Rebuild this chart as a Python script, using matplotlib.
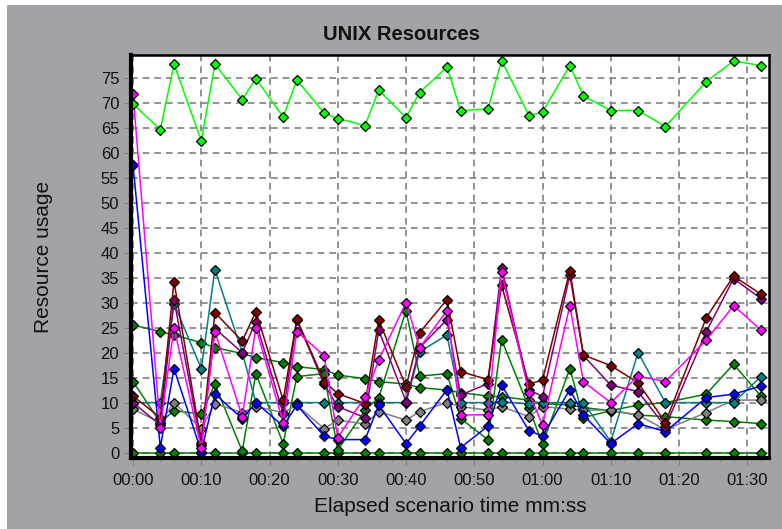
"""
    UNIX Resources chart (LoadRunner style)
"""

import numpy as np
import matplotlib
matplotlib.use("Agg")
import matplotlib.pyplot as plt
from matplotlib.patches import Rectangle
from matplotlib.ticker import MultipleLocator, FuncFormatter

# elapsed time in seconds
t = [0, 4, 6, 10, 12, 16, 18, 22, 24, 28, 30, 34, 36, 40, 42, 46, 48, 52, 54, 58,
     60, 64, 66, 70, 74, 78, 84, 88, 92]

lime = [69.7, 64.6, 77.7, 62.3, 77.7, 70.6, 74.8, 67.1, 74.5, 67.9, 66.8, 65.4, 72.5, 67.0, 72.0,
        77.1, 68.4, 68.7, 78.4, 67.4, 68.1, 77.4, 71.3, 68.4, 68.4, 65.2, 74.2, 78.3, 77.4]
green_b = [25.5, 24.2, 23.5, 22.0, 21.0, 19.8, 19.0, 18.0, 17.2, 16.6, 15.5, 14.8, 14.2, 13.7, 13.0,
           12.5, 12.0, 11.3, 11.2, 10.5, 9.8, 9.5, 9.0, 8.4, 7.5, 7.2, 6.5, 6.2, 5.8]
green_c = [14.2, 6.0, 8.4, 7.7, 13.7, 0.3, 15.8, 1.8, 15.2, 15.8, 0.5, 8.5, 11.0, 28.4, 15.3,
           15.8, 6.8, 2.6, 22.6, 9.0, 1.7, 16.8, 7.0, 8.4, 9.5, 10.0, 11.7, 17.7, 11.3]
green_zero = [0.0] * 29
gray = [8.7, 6.0, 10.0, 4.8, 9.8, 8.0, 9.2, 8.0, 9.5, 4.8, 6.5, 5.7, 8.2, 6.5, 8.2,
        10.0, 9.2, 8.5, 9.2, 7.2, 9.2, 8.7, 8.5, 8.5, 7.5, 4.6, 8.0, 10.5, 10.5]
teal = [10.0, 10.0, 29.8, 16.8, 36.6, 20.0, 10.0, 10.0, 10.0, 10.0, 10.0, 10.0, 10.0, 10.0, 20.2,
        23.5, 10.0, 10.0, 10.2, 9.7, 10.0, 10.0, 10.0, 2.2, 20.0, 10.0, 10.0, 10.0, 15.2]
blue = [57.5, 1.0, 16.8, 0.2, 11.7, 6.8, 10.0, 5.3, 9.5, 3.3, 2.6, 2.6, 9.5, 1.8, 5.3,
        12.6, 1.0, 5.3, 13.5, 4.4, 3.3, 12.6, 7.5, 1.8, 5.8, 4.2, 11.0, 11.7, 13.3]
purple = [10.0, 5.5, 30.6, 1.5, 24.8, 20.0, 26.2, 7.8, 26.5, 13.7, 9.2, 7.0, 24.5, 10.2, 21.0,
          26.6, 11.5, 13.8, 37.0, 12.6, 11.2, 35.5, 19.4, 13.5, 12.2, 5.2, 24.2, 34.8, 30.8]
darkred = [11.3, 7.0, 34.2, 2.0, 28.0, 22.3, 28.2, 10.5, 26.7, 14.2, 11.8, 9.8, 26.5, 13.2, 24.0,
           30.6, 16.2, 14.6, 33.5, 13.7, 14.5, 36.4, 19.5, 17.4, 14.0, 6.0, 27.0, 35.3, 31.7]
magenta = [71.7, 5.0, 25.0, 1.0, 24.2, 7.2, 25.0, 6.0, 24.2, 19.4, 3.0, 11.2, 18.5, 30.0, 21.0,
           28.4, 7.5, 7.6, 36.2, 12.0, 5.5, 29.4, 14.2, 10.0, 15.3, 14.2, 22.5, 29.4, 24.5]

series = [
    (green_zero, "#008000"),
    (green_b, "#008000"),
    (green_c, "#008000"),
    (gray, "#808080"),
    (teal, "#008080"),
    (blue, "#0000ff"),
    (purple, "#800080"),
    (darkred, "#800000"),
    (magenta, "#ff00ff"),
    (lime, "#00ff00"),
]

plt.rcParams['font.family'] = ['Liberation Sans', 'DejaVu Sans']

fig = plt.figure(figsize=(7.82, 5.29), dpi=100, facecolor="white")
# gray panel, leaving a thin white strip on the left and top
fig.patches.append(Rectangle((7 / 782, 0), 1, 1 - 5 / 529, transform=fig.transFigure,
                             facecolor="#a3a2a7", edgecolor='none', zorder=-10))
ax = fig.add_axes([0.1675, 0.134, 0.816, 0.762])
ax.set_zorder(1)
ax.set_facecolor("white")

for values, color in series:
    ax.plot(t, values, '-', color=color, lw=1.1, marker='D', markersize=5.5,
            markerfacecolor=color, markeredgecolor='black', markeredgewidth=0.9)

ax.set_xlim(-0.3, 93.2)
ax.set_ylim(-1.1, 79.5)
ax.xaxis.set_major_locator(MultipleLocator(10))
ax.xaxis.set_minor_locator(MultipleLocator(2))
ax.yaxis.set_major_locator(MultipleLocator(5))
ax.xaxis.set_major_formatter(FuncFormatter(lambda v, p: "%02d:%02d" % (int(v) // 60, int(v) % 60)))

ax.grid(True, which='major', color='#808080', linestyle=(0, (4, 3)), linewidth=1.2)
ax.tick_params(axis='both', which='major', labelsize=12, length=5, color='#808080',
               labelcolor='#111111')
ax.tick_params(axis='x', which='major', pad=6)
ax.tick_params(axis='x', which='minor', length=3, color='#808080')

for side in ['left', 'bottom']:
    ax.spines[side].set_linewidth(3)
for side in ['top', 'right']:
    ax.spines[side].set_linewidth(1.8)

fig.text(0.576, 1 - 506 / 529, "Elapsed scenario time mm:ss", fontsize=15, color='#111111',
         ha='center', va='center')
fig.text(44 / 782, 0.515, "Resource usage", fontsize=15, color='#111111',
         ha='center', va='center', rotation=90)
fig.text(0.514, 1 - 34 / 529, "UNIX Resources", fontsize=14.5, fontweight='bold',
         ha='center', va='center', color='#111111')

plt.savefig("out.png", dpi=100, facecolor=fig.get_facecolor())
